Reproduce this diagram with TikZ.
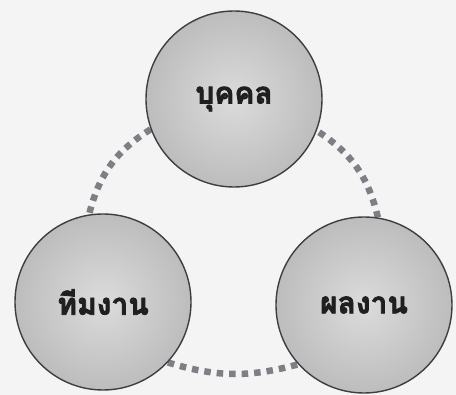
\documentclass[tikz,border=0pt]{standalone}
\usepackage{fontspec}
\newfontfamily\thaifont[Script=Thai,FakeBold=2.5]{Loma}
\pgfdeclarelayer{bg}
\pgfsetlayers{bg,main}
\definecolor{bgc}{HTML}{F4F4F4}
\definecolor{dotc}{HTML}{7E7E84}
\definecolor{rimc}{HTML}{3E3E40}
\tikzset{
  ballnode/.style={circle, minimum size=176pt, inner sep=0pt, draw=rimc, line width=1.4pt,
    shading=radial, inner color=gray!28, outer color=gray!52,
    font=\thaifont\bfseries\fontsize{30}{33}\selectfont, text=black!88},
  dotline/.style={dotc, line width=6.5pt, dash pattern=on 6.5pt off 6pt}
}
\begin{document}
\begin{tikzpicture}[x=1pt,y=-1pt]
\useasboundingbox (0,0) rectangle (456,395);
\node[ballnode] (top) at (234,99) {บุคคล};
\node[ballnode] (left) at (103,302) {ทีมงาน};
\node[ballnode] (right) at (364,305) {ผลงาน};
\begin{pgfonlayer}{bg}
\fill[bgc] (0,0) rectangle (456,395);
\draw[dotline] (top.200) to[bend right=22] (left.99);
\draw[dotline] (left.-43) to[bend right=16] (right.-138);
\draw[dotline] (right.81) to[bend right=22] (top.-21);
\end{pgfonlayer}
\end{tikzpicture}
\end{document}
